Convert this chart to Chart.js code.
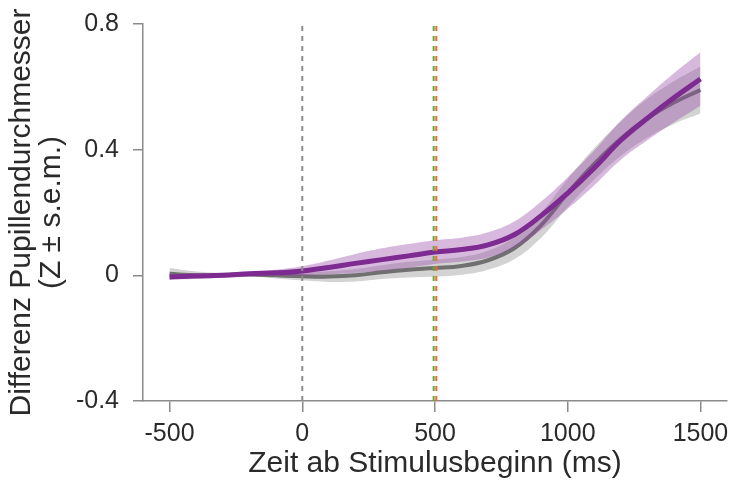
<!DOCTYPE html>
<html>
<head>
<meta charset="utf-8">
<script src="https://cdn.jsdelivr.net/npm/chart.js@4"></script>
<style>
  body { margin: 0; background: #fff; }
</style>
</head>
<body>
<canvas id="chart" width="731" height="482"></canvas>
<script>
// time axis (ms from stimulus onset)
const times = [-500, -400, -300, -200, -100, 0, 100, 200, 300, 400, 500, 600, 700, 800, 900, 1000, 1100, 1200, 1300, 1400, 1500]

// condition shown in grey
const greyMean = [0.005, 0.0, 0.0, 0.003, 0.0, -0.003, -0.004, 0.0, 0.01, 0.018, 0.023, 0.03, 0.048, 0.087, 0.16, 0.262, 0.355, 0.435, 0.5, 0.55, 0.59]
const greySem = [0.018, 0.012, 0.008, 0.007, 0.01, 0.013, 0.017, 0.02, 0.022, 0.025, 0.027, 0.028, 0.03, 0.035, 0.04, 0.045, 0.05, 0.055, 0.062, 0.068, 0.075]

// condition shown in purple
const purpleMean = [-0.005, -0.002, 0.0, 0.005, 0.008, 0.014, 0.025, 0.038, 0.05, 0.062, 0.074, 0.082, 0.097, 0.13, 0.19, 0.262, 0.342, 0.43, 0.5, 0.565, 0.625]
const purpleSem = [0.008, 0.006, 0.005, 0.006, 0.01, 0.015, 0.022, 0.03, 0.036, 0.038, 0.038, 0.038, 0.04, 0.042, 0.045, 0.05, 0.055, 0.062, 0.07, 0.078, 0.085]

// vertical markers
const onsetLine = 0
const greenLine = 495
const orangeLine = 505

const xTicks = [-500, 0, 500, 1000, 1500]
const yTicks = [-0.4, 0, 0.4, 0.8]

const pts = (ys) => times.map((t, i) => ({x: t, y: ys[i]}))
const band = (m, s, sign) => times.map((t, i) => ({x: t, y: m[i] + sign * s[i]}))
const vline = (x) => [{x: x, y: -0.4}, {x: x, y: 0.8}]

const axisGrey = '#8a8a8a'
const textCol = '#2a2a2a'
const font = 'Liberation Sans, Arial, Helvetica, sans-serif'

function lineSet(data, color, width, order) {
    return {data, borderColor: color, borderWidth: width, pointRadius: 0,
        tension: 0.4, fill: false, order}
}
function bandSet(data, fill, color, order) {
    return {data, borderWidth: 0, pointRadius: 0, tension: 0.4,
        fill, backgroundColor: color, order}
}
function dashSet(x, color) {
    return {data: vline(x), borderColor: color, borderWidth: 2, borderDash: [5, 5],
        pointRadius: 0, fill: false, order: -1}
}

new Chart(document.getElementById('chart'), {
    type: 'line',
    data: {
        datasets: [
            bandSet(band(greyMean, greySem, -1), false, 'transparent', 4),
            bandSet(band(greyMean, greySem, 1), '-1', 'rgba(150,150,150,0.42)', 3),
            lineSet(pts(greyMean), '#707070', 4, 2),
            bandSet(band(purpleMean, purpleSem, -1), false, 'transparent', 1.5),
            bandSet(band(purpleMean, purpleSem, 1), '-1', 'rgba(150,70,165,0.38)', 1),
            lineSet(pts(purpleMean), '#7d2a91', 5, 0),
            dashSet(onsetLine, '#8c8c8c'),
            dashSet(greenLine, '#5fa83a'),
            dashSet(orangeLine, '#ee6a2c')
        ]
    },
    options: {
        responsive: false,
        animation: false,
        devicePixelRatio: 1,
        layout: {padding: {top: 24, right: 4, left: 0, bottom: 0}},
        plugins: {legend: {display: false}, tooltip: {enabled: false}},
        scales: {
            x: {
                type: 'linear',
                min: -600,
                max: 1600,
                afterBuildTicks: (axis) => { axis.ticks = xTicks.map(v => ({value: v})) },
                afterFit: (axis) => {
                    axis.height = 81
                    axis.paddingLeft = 0
                    axis.paddingRight = 0
                },
                border: {display: true, color: axisGrey, width: 1.5},
                grid: {display: true, drawOnChartArea: false, drawTicks: true,
                    tickLength: 11, color: axisGrey, lineWidth: 1.5},
                ticks: {color: textCol, font: {family: font, size: 25}, padding: 7,
                    maxRotation: 0, autoSkip: false,
                    callback: (v) => String(v)},
                title: {display: true, text: 'Zeit ab Stimulusbeginn (ms)', color: textCol,
                    font: {family: font, size: 30, lineHeight: 1.1}, padding: {top: 0, bottom: 2}}
            },
            y: {
                type: 'linear',
                min: -0.4,
                max: 0.8,
                afterBuildTicks: (axis) => { axis.ticks = yTicks.map(v => ({value: v})) },
                afterFit: (axis) => {
                    axis.width = 143
                    axis.paddingTop = 0
                    axis.paddingBottom = 0
                },
                border: {display: true, color: axisGrey, width: 1.5},
                grid: {display: true, drawOnChartArea: false, drawTicks: true,
                    tickLength: 10, color: axisGrey, lineWidth: 1.5},
                ticks: {color: textCol, font: {family: font, size: 25}, padding: 14,
                    callback: (v) => String(Math.round(v * 10) / 10)},
                title: {display: true, text: ['Differenz Pupillendurchmesser', '(Z \u00b1 s.e.m.)'],
                    color: textCol, font: {family: font, size: 30, lineHeight: 1.0},
                    padding: {top: 7, bottom: 0}}
            }
        }
    }
})
</script>
</body>
</html>
